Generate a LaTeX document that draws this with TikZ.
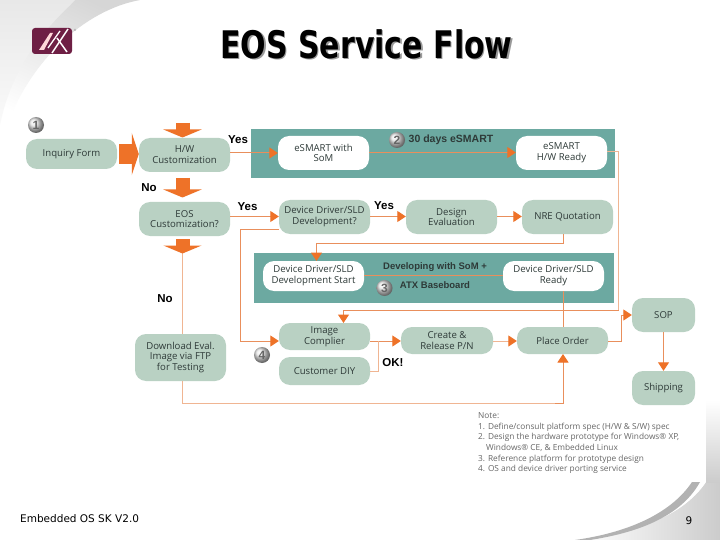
\documentclass[tikz,border=0pt]{standalone}
\usepackage{fontspec}
\setmainfont{Open Sans}
\newfontfamily\titlefont{DejaVu Sans}
\newfontfamily\labelfont{Liberation Sans}
\usetikzlibrary{arrows.meta}
\definecolor{nodegreen}{HTML}{B9D1C3}
\definecolor{panelteal}{HTML}{6CA9A1}
\definecolor{orangehead}{HTML}{EE7228}
\definecolor{orangeline}{HTML}{E98F5C}
\definecolor{paleline}{HTML}{F0B592}
\definecolor{maroon}{HTML}{6E1F44}
\definecolor{txt}{HTML}{2E3A38}
\tikzset{
  x=1pt,y=-1pt,
  boxbase/.style={rounded corners=11pt,inner sep=0pt,align=center,text=txt,font=\fontsize{9.6}{10.8}\selectfont},
  gbox/.style={boxbase,fill=nodegreen},
  wbox/.style={boxbase,fill=white},
  panel/.style={fill=panelteal,draw=none},
  flow/.style={draw=orangeline,line width=1pt,-{Triangle[length=8.5pt,width=11pt,fill=orangehead,color=orangehead]}},
  plain/.style={draw=orangeline,line width=1pt},
  pale/.style={draw=paleline,line width=1pt},
  bigarrow/.style={draw=orangehead,line width=14pt,-{Triangle[length=8pt,width=38pt,fill=orangehead,color=orangehead]}},
  yes/.style={font=\labelfont\bfseries\fontsize{11.5}{13}\selectfont,text=black,inner sep=0pt},
  paneltext/.style={font=\labelfont\bfseries\fontsize{9.5}{11}\selectfont,text=txt,inner sep=0pt},
  ballnum/.style={circle,shading=ball,ball color=black!10,minimum size=16pt,inner sep=0pt,text=black!60,font=\labelfont\bfseries\fontsize{12}{13}\selectfont},
}
\begin{document}
\begin{tikzpicture}
\useasboundingbox (0,0) rectangle (720,540);
\fill[white] (0,0) rectangle (720,540);
% background swooshes
\shade[top color=black!16,bottom color=white,shading angle=-25] (0,0) -- (140,0) .. controls (85,10) and (30,60) .. (5,130) -- (0,130) -- cycle;
\shade[top color=black!9,bottom color=black!2] (0,0) -- (75,0) .. controls (65,12) and (15,50) .. (0,125) -- cycle;
\shade[left color=white,right color=black!20] (580,482) -- (720,482) -- (720,540) -- (580,540) .. controls (630,532) and (680,520) .. (706,482) -- cycle;
\shade[top color=white,bottom color=black!20] (706,400) rectangle (720,482);
\fill[white] (580,482) -- (706,482) .. controls (680,520) and (630,532) .. (580,540) -- cycle;
\fill[black!30] (692,482) .. controls (670,515) and (625,533) .. (575,540) -- (590,540) .. controls (635,533) and (680,518) .. (700,482) -- cycle;
\fill[white] (18,100) rectangle (706,482);
% logo
\fill[maroon,rounded corners=3pt] (32,28) rectangle (72,54);
\fill[pink!60!white] (39,50) -- (50,33) -- (53,33) -- (44,50) -- cycle;
\draw[white,line width=1.3pt] (48,48) -- (60,31);
\draw[white,line width=1.5pt] (52,53) -- (68,29);
\draw[white,line width=1.5pt] (57,38) -- (67,52);
\node[inner sep=0pt,text=black!50,font=\fontsize{3}{3}\selectfont] (tm) at (75,30) {®};
% title
\node[inner sep=0pt] (title) at (366.5,45) {\scalebox{0.79}[1]{\titlefont\bfseries\fontsize{38}{42}\selectfont\rlap{\kern1.6pt\raisebox{-1.6pt}{\color{black!40}EOS Service Flow}}EOS Service Flow}};
% panels
\fill[panel] (251,129) rectangle (615,178);
\fill[panel] (254,253) rectangle (614,303);
% nodes
\node[gbox,minimum width=91pt,minimum height=30pt] (inq) at (71.5,154) {Inquiry Form};
\node[gbox,minimum width=91pt,minimum height=34pt] (hw) at (184.5,155) {H/W\\Customization};
\node[gbox,minimum width=91pt,minimum height=34pt] (eos) at (184.5,219) {EOS\\Customization?};
\node[wbox,minimum width=91pt,minimum height=34pt] (som) at (323.5,153) {eSMART with\\SoM};
\node[wbox,minimum width=91pt,minimum height=34pt] (ready) at (561.5,153) {eSMART\\H/W Ready};
\node[gbox,minimum width=91pt,minimum height=34pt] (dev) at (324.5,217) {Device Driver/SLD\\Development?};
\node[gbox,minimum width=91pt,minimum height=34pt] (design) at (451.5,217) {Design\\Evaluation};
\node[gbox,minimum width=91pt,minimum height=34pt] (nre) at (567.5,217) {NRE Quotation};
\node[wbox,minimum width=101pt,minimum height=30pt] (start) at (313.5,276) {Device Driver/SLD\\Development Start};
\node[wbox,minimum width=101pt,minimum height=30pt] (dready) at (553.5,276) {Device Driver/SLD\\Ready};
\node[gbox,minimum width=91pt,minimum height=27pt] (image) at (324.5,336.5) {Image\\Complier};
\node[gbox,minimum width=91pt,minimum height=28pt] (diy) at (324.5,371) {Customer DIY};
\node[gbox,minimum width=92pt,minimum height=27pt] (create) at (447,340.5) {Create \&\\Release P/N};
\node[gbox,minimum width=91pt,minimum height=27pt] (place) at (562.5,340.5) {Place Order};
\node[gbox,minimum width=63pt,minimum height=34pt] (sop) at (663.5,315) {SOP};
\node[gbox,minimum width=63pt,minimum height=34pt] (ship) at (663.5,388) {Shipping};
\node[gbox,minimum width=91pt,minimum height=47pt] (dl) at (180.5,357.5) {\raisebox{0pt}{Download Eval.}\\Image via FTP\\for Testing};
% connectors
\coordinate (turnA) at (618.5,310.5);
\coordinate (turnB) at (343.5,310.5);
\draw[pale] ([yshift=1pt]ready.east) -| (turnA);
\draw[flow] (turnA) -- (turnB) -- (343.5,323);
\draw[flow] (hw.east |- 0,153) -- (som.west |- 0,153);
\draw[flow] (som.east |- 0,152.5) -- (ready.west |- 0,152.5);
\draw[flow] (eos.east |- 0,216.5) -- (dev.west |- 0,216.5);
\draw[flow] (dev.east |- 0,216.5) -- (design.west |- 0,216.5);
\draw[flow] (design.east |- 0,216.5) -- (nre.west |- 0,216.5);
\draw[flow] (dev.west |- 0,230) -- (240.5,230) |- (image.west |- 0,341);
\draw[flow] (563.5,234) |- (316.5,243) -- (316.5,261);
\draw[plain] (start.east |- 0,275) -- (dready.west |- 0,275);
\draw[plain] (563,291) -- (563,327);
\draw[flow] (image.east |- 0,341) -- (create.west |- 0,341);
\draw[pale] (diy.east |- 0,371) -- (378.5,371) -- (378.5,341);
\draw[flow,draw=paleline] (create.east |- 0,341) -- (place.west |- 0,341);
\draw[flow] (place.east |- 0,341) -- (621,341) -- (621,315) -- (sop.west);
\draw[flow] (sop.south) -- (ship.north);
\draw[pale] (182,253) -- (182,334);
\draw[pale] (182,381) |- (555,403.5);
\draw[flow] (555,403.5) -- (563,403.5) -- (563,354);
% block arrows
\draw[bigarrow] (182.5,123) -- (182.5,137.5);
\draw[bigarrow] (182.5,178) -- (182.5,197.5);
\draw[bigarrow] (182.5,239) -- (182.5,253.5);
\draw[bigarrow,line width=20pt,-{Triangle[length=7pt,width=42pt,fill=orangehead,color=orangehead]}] (inq.east) ++(2,0) -- (hw.west |- inq.east);
% labels
\node[yes] (y1) at (238,139.5) {Yes};
\node[yes] (n1) at (149,188) {No};
\node[yes] (y2) at (247.5,206.5) {Yes};
\node[yes] (y3) at (384,205.5) {Yes};
\node[yes] (n2) at (165,298.5) {No};
\node[yes] (ok) at (393,362.5) {OK!};
\node[paneltext,font=\labelfont\bfseries\fontsize{10.5}{12}\selectfont] (d30) at (451,139.5) {30 days eSMART};
\node[paneltext] (dw) at (435,267) {Developing with SoM +};
\node[paneltext] (atx) at (435,285.5) {ATX Baseboard};
\node[ballnum] (c1) at (36,125) {1};
\node[ballnum] (c2) at (397,140) {2};
\node[ballnum] (c3) at (384.5,288) {3};
\node[ballnum] (c4) at (262,355) {4};
% note
\node[anchor=north west,inner sep=0pt,align=left,text=black!60,font=\fontsize{8.3}{10.6}\selectfont] (note) at (478,412.5) {Note:\\1. Define/consult platform spec (H/W \& S/W) spec\\2. Design the hardware prototype for Windows® XP,\\\hspace*{8pt}Windows® CE, \& Embedded Linux\\3. Reference platform for prototype design\\4. OS and device driver porting service};
% footer
\node[anchor=west,inner sep=0pt,text=black,font=\titlefont\fontsize{10.5}{12}\selectfont] (foot) at (20,519) {Embedded OS SK V2.0};
\node[inner sep=0pt,text=black,font=\titlefont\fontsize{10.5}{12}\selectfont] (page) at (689,521) {9};
\end{tikzpicture}
\end{document}
